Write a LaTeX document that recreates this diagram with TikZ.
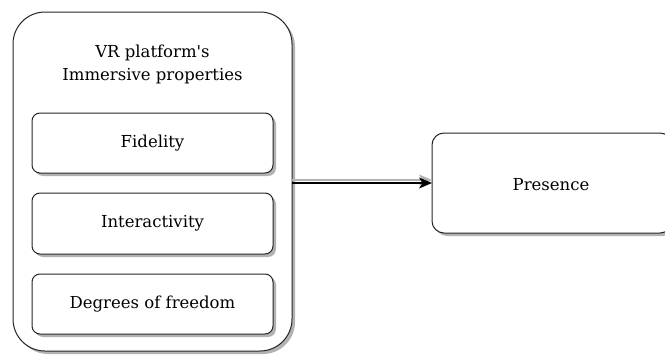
\documentclass[tikz,border=0pt]{standalone}
\usepackage{fontspec}
\setmainfont{DejaVu Serif}[Ligatures=TeXOff]
\usetikzlibrary{arrows.meta,shadows}
\begin{document}
\begin{tikzpicture}[x=1pt,y=-1pt,
  box/.style={draw=black!85,line width=1pt,fill=white,
    drop shadow={shadow xshift=3pt,shadow yshift=-3pt,fill=black!30,opacity=1}},
  lbl/.style={font=\fontsize{16.5}{23}\selectfont,align=center,inner sep=0pt},
  tip/.style={-{Stealth[length=13pt,width=11pt,inset=3.5pt]}},
  link/.style={draw=black,line width=1.1pt,tip}]
\useasboundingbox (0,0) rectangle (665,356);
\clip (0,0) rectangle (665,356);
% outer container
\path[box,rounded corners=32pt] (13,12) rectangle (292,351);
\coordinate (outerE) at (292,183);
\node[lbl] (title) at (152.5,64) {VR platform's\\Immersive properties};
% inner boxes
\path[box,rounded corners=8pt] (32,113) rectangle (273,173);
\node[lbl] (fid) at (152.5,143) {Fidelity};
\path[box,rounded corners=8pt] (32,193) rectangle (273,254);
\node[lbl] (int) at (152.5,223.5) {Interactivity};
\path[box,rounded corners=8pt] (32,274) rectangle (273,334);
\node[lbl] (dof) at (152.5,304) {Degrees of freedom};
% presence
\path[box,rounded corners=12pt] (432,133) rectangle (672,233);
\coordinate (presW) at (432,183);
\node[lbl] (pres) at (551,185) {Presence};
% connector shadow and line
\draw[black!30,line width=1.1pt,tip] ([yshift=3pt]outerE) -- ([yshift=3pt]presW);
\path[link] (outerE) -- (presW);
\end{tikzpicture}
\end{document}
